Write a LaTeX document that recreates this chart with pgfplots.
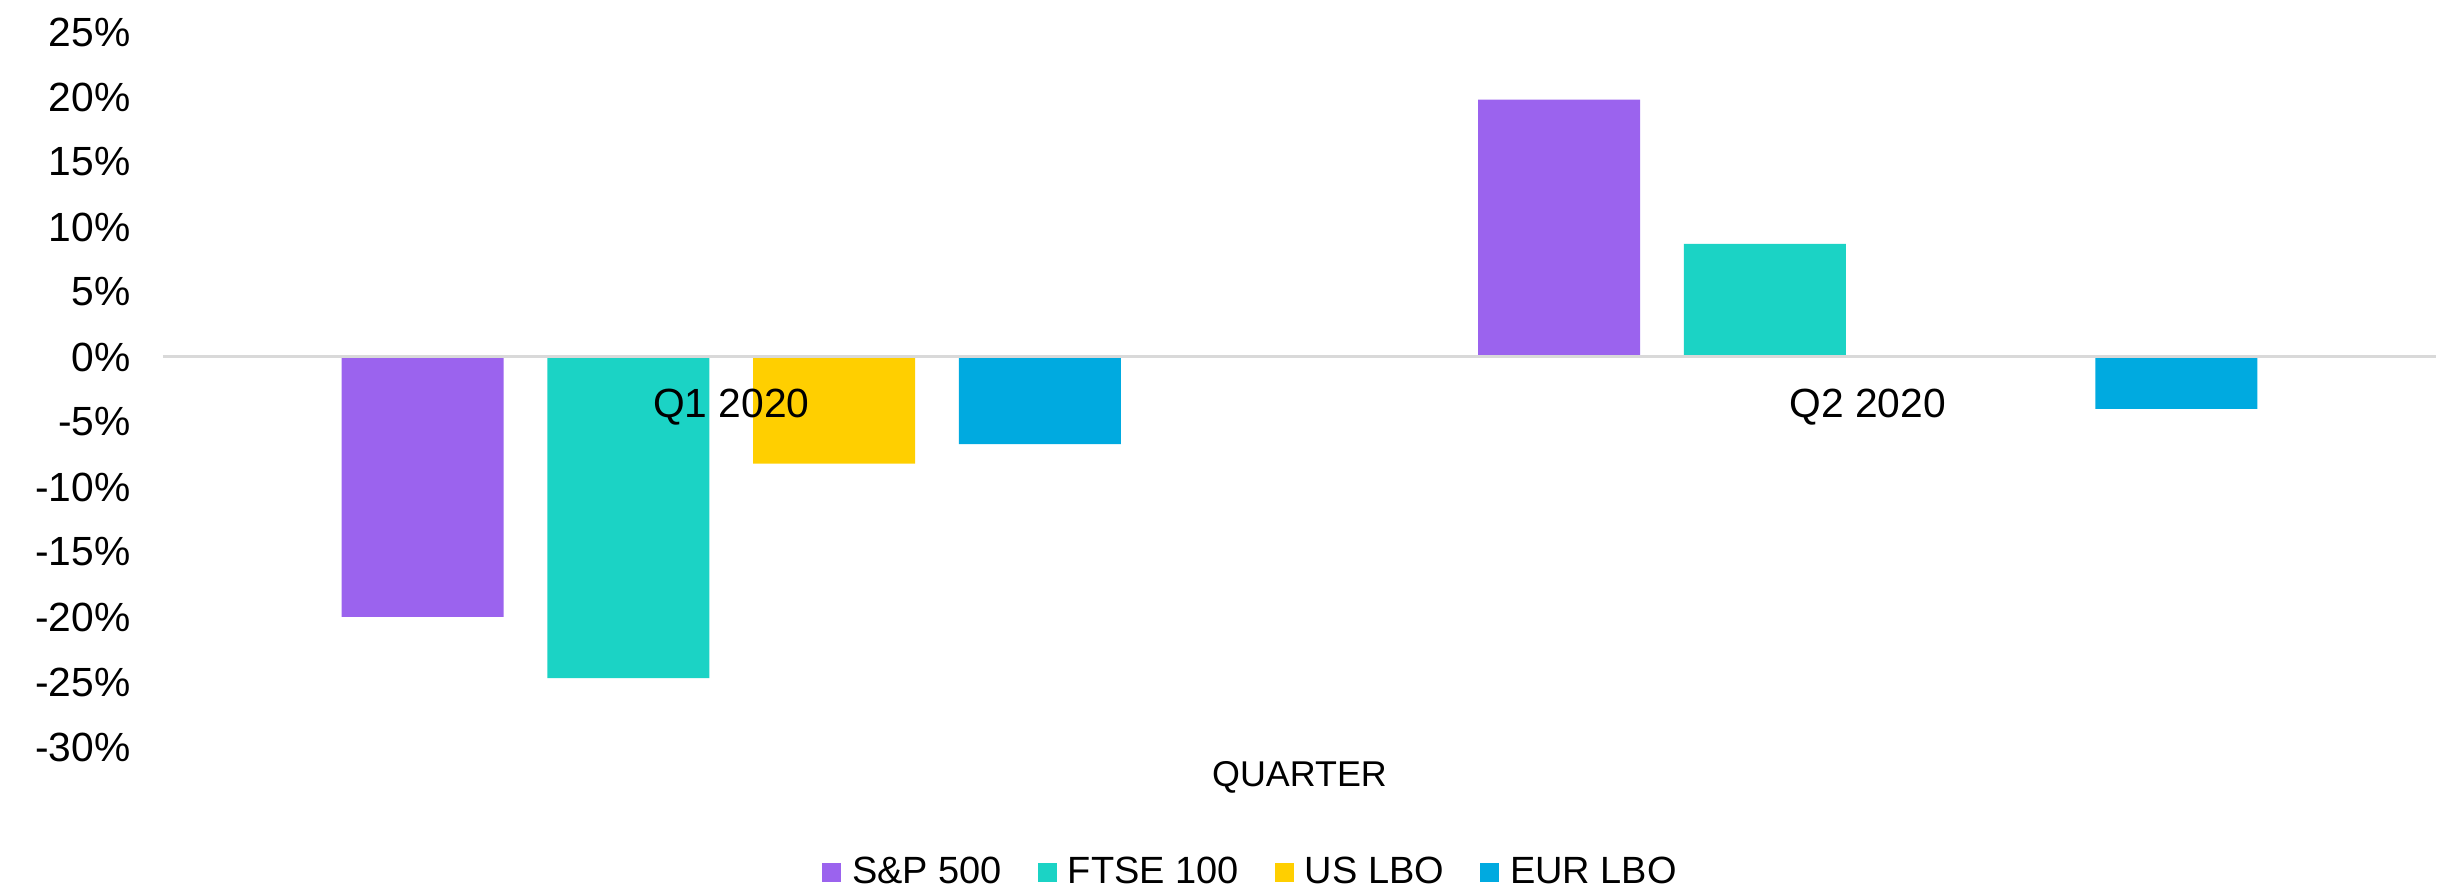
\documentclass[border=0pt]{standalone}
\usepackage{fontspec}
\setmainfont{Liberation Sans}
\usepackage{pgfplots}
\pgfplotsset{compat=1.18}

\definecolor{spPurple}{HTML}{9B63EE}
\definecolor{ftseTeal}{HTML}{1BD3C5}
\definecolor{usYellow}{HTML}{FFCF00}
\definecolor{eurBlue}{HTML}{00AAE0}
\definecolor{zeroGrey}{HTML}{D9D9D9}

\begin{document}
\begin{tikzpicture}
\begin{axis}[
  scale only axis,
  width=22.73cm, height=7.15cm,
  font=\fontsize{10.8}{13}\selectfont,
  tick label style={font=\fontsize{11.6}{14}\selectfont},
  xmin=-0.5, xmax=1.5,
  ymin=-30, ymax=25,
  axis on top,
  axis x line=middle,
  axis y line=left,
  x axis line style={-, draw=zeroGrey, line width=0.03cm},
  y axis line style={draw=none},
  major tick length=0pt,
  xtick={0,1},
  xticklabels={Q1 2020, Q2 2020},
  xticklabel style={yshift=-0.2cm},
  ytick={-30,-25,...,25},
  yticklabels={-30\%,-25\%,-20\%,-15\%,-10\%,-5\%,0\%,5\%,10\%,15\%,20\%,25\%},
  yticklabel style={xshift=-0.2cm},
  xlabel={QUARTER},
  xlabel style={at={(rel axis cs:0.5,0)}, anchor=north, yshift=-0.02cm,
    font=\fontsize{10.2}{13}\selectfont},
  bar width=0.1425,
  clip=false,
  legend columns=4,
  legend style={draw=none, fill=none, at={(rel axis cs:0.4795,-0.176)}, anchor=center,
    /tikz/every even column/.append style={column sep=0.29cm}},
  legend image code/.code={\fill[#1] (0cm,-0.095cm) rectangle (0.19cm,0.095cm);},
]
\addplot[ybar, bar shift=-0.2715, fill=spPurple, draw=none] coordinates {(0,-20.0) (1,19.8)};
\addlegendentry{\hspace{0.04cm}S\&P 500}
\addplot[ybar, bar shift=-0.0905, fill=ftseTeal, draw=none] coordinates {(0,-24.7) (1,8.7)};
\addlegendentry{\hspace{0.04cm}FTSE 100}
\addplot[ybar, bar shift=0.0905, fill=usYellow, draw=none] coordinates {(0,-8.2) (1,0.1)};
\addlegendentry{\hspace{0.04cm}US LBO}
\addplot[ybar, bar shift=0.2715, fill=eurBlue, draw=none] coordinates {(0,-6.7) (1,-4.0)};
\addlegendentry{\hspace{0.04cm}EUR LBO}
\end{axis}
% page margins as in the reference
\pgfresetboundingbox
\path[use as bounding box] ([shift={(-1.63cm,-1.44cm)}]current axis.south west)
  rectangle ([shift={(0.17cm,0.32cm)}]current axis.north east);
\end{tikzpicture}
\end{document}
